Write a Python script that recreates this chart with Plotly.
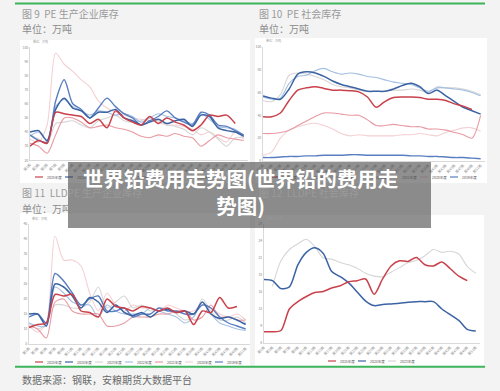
import plotly.graph_objects as go

W, H = 500, 391

# ---------------- data ----------------
weeks = [1, 3, 5, 7, 9, 11, 13, 15, 17, 19, 21, 23, 25, 27, 29, 31, 33, 35, 37, 39, 41, 43, 45, 47, 49, 51]
tick_weeks = [1, 3, 5, 7, 9, 11, 13, 15, 17, 19, 21, 23, 25, 27, 29, 31, 33, 35, 37, 39, 41, 43, 45, 47, 49, 51]
tick_text = ["第%d周" % w for w in tick_weeks]

years = ["2025年度", "2024年度", "2023年度", "2022年度", "2021年度", "2020年度", "2019年度"]
colors = ["#c8414b", "#3b63a3", "#d6d6d6", "#a3bfe2", "#e89aa3", "#f4d0d4", "#5a7fc0"]
widths = [1.5, 1.5, 1.1, 1.1, 1.1, 1.1, 1.4]

# 图9 PE 生产企业库存
pe_prod_2025 = [30, 34, 32, 54, 53, 52, 51, 46, 49, 43, 55, 50, 47, 45, 51, 46, 50, 47, 45, 41, 45, 52, 51, 52, 46, None]
pe_prod_2024 = [40, 41, 34, 56, 64, 57, 55, 50, 54, 54, 56, 50, 48, 45, 47, 49, 46, 48, 49, 44, 52, 51, 43, 41, 40, 37]
pe_prod_2023 = [38, 35, 32, 46, 47, 48, 45, 43, 48, 50, 52, 48, 47, 48, 50, 48, 45, 44, 42, 38, 43, 40, 35, 30, 36, 36]
pe_prod_2022 = [37, 40, 34, 58, 63, 58, 55, 52, 55, 54, 52, 53, 51, 47, 50, 53, 51, 50, 48, 46, 53, 49, 44, 43, 42, 37]
pe_prod_2021 = [32, 30, 25, 38, 50, 50, 47, 43, 44, 45, 43, 42, 40, 37, 36, 38, 37, 39, 37, 36, 30, 34, 38, 36, 35, 34]
pe_prod_2020 = [35, 33, 45, 96, 88, 83, 77, 72, 62, 57, 54, 52, 50, 49, 48, 47, 45, 45, 44, 42, 38, 40, 36, 33, 40, 35]
pe_prod_2019 = [38, 34, 33, 62, 77, 60, 56, 50, 57, 64, 58, 53, 50, 45, 48, 51, 55, 50, 47, 45, 54, 52, 45, 44, 41, 38]

# 图10 PE 社会库存
pe_soc_2025 = [38.8, 38.8, 42, 53, 62, 64, 65, 63.5, 62, 62, 61.5, 60.5, 56, 47, 52, 55.5, 56, 56, 55.5, 54, 54, 53, 50, 48, 45, None]
pe_soc_2024 = [57, 55, 54, 63, 76, 78, 77, 74, 70, 67, 65, 63, 61, 61, 61, 63, 66, 68, 65, 59, 62, 57, 52, 47, 44, 41]
pe_soc_2023 = [53, 52, 58, 75, 77, 76, 74, 71, 67, 65, 64, 62, 61, 61, 61, 62, 62, 63, 62, 60, 65, 64, 64, 63, 61, 58]
pe_soc_2022 = [56, 54, 55, 68, 74, 75, 79, 81, 78, 76, 77, 76, 74, 73, 71, 69, 68, 67, 64, 61, 64, 64, 63, 62, 60, 57]
pe_soc_2021 = [24, 24, 25, 27, 31, 35, 39, 42, 42, 41, 40, 40, 36, 31, 31, 32, 31, 30, 30, 28, 28, 27, 25, 23, 20, 40]
pe_soc_2020 = [5, 8, 20, 27, 30, 32, 33, 31, 28, 24, 22, 23, 22, 22, 22, 22, 23, 23, 24, 23, 22, 25, 27, 29, 29, 26]
pe_soc_2019 = [3, 3, 3.5, 4, 4, 4.5, 4.5, 5, 5, 5, 5.5, 5.5, 5, 5, 5, 5, 5, 4.5, 4.5, 4, 4, 3.5, 3, 3, 2.5, 2]

# 图11 LLDPE 生产企业库存
lldpe_prod_2025 = [10.5, 11.5, 12, 21.5, 21, 21.5, 16, 15.5, 14, 20, 17.5, 17, 16, 17.5, 17, 16, 17, 15.5, 16, 11.5, 16, 15.5, 20.5, 17, 17.5, None]
lldpe_prod_2024 = [15, 15, 11, 25, 24, 21, 17, 20.5, 19, 15.5, 18, 15.5, 14.5, 15.5, 14, 16, 16.5, 15.5, 16, 15, 19, 15, 13.5, 14, 13, 11.5]
lldpe_prod_2023 = [12, 10, 12, 18, 18, 17, 17, 19, 24, 17, 19, 21, 17, 18, 16, 17, 17, 15, 13, 14, 20, 16, 13, 13, 14, 12]
lldpe_prod_2022 = [12, 11, 11, 24, 22, 19, 18, 18, 14, 18, 16, 15, 15, 15, 17, 16, 15, 14, 12, 14, 19, 15, 12, 11, 10, 9.5]
lldpe_prod_2021 = [11, 10, 7, 19, 20, 16, 15, 15, 15, 11, 11, 12, 14, 14, 14, 15, 15, 16, 16, 13, 14, 18, 14, 14, 13, 13]
lldpe_prod_2020 = [11, 9, 12, 41, 33, 33, 31, 22, 16, 22, 18, 16, 18, 17, 17, 16, 18, 17, 16, 16, 18, 17, 15, 14, 15, 13]
lldpe_prod_2019 = [14, 15, 12, 28.5, 26, 22, 18, 20, 21, 16, 16, 17, 14, 15, 15, 17, 16, 16, 15, 15, 18, 17, 14, 12, 11, 10]

# 图12 LLDPE 社会库存
lldpe_soc_2025 = [8.0, 8.0, 8.2, 12.0, 13.3, 14.2, 14.9, 15.1, 15.7, 16.1, 16.8, 17.0, 17.3, 14.6, 17.3, 19.6, 20.5, 20.4, 21.1, 19.8, 19.6, 20.3, 19.1, 17.8, 17.0, None]
lldpe_soc_2024 = [17.2, 17.0, 15.6, 15.9, 19.8, 22.0, 22.8, 21.8, 18.6, 17.7, 16.6, 15.0, 13.4, 12.6, 12.8, 12.9, 13.0, 13.2, 13.3, 13.3, 13.3, 12.0, 11.0, 10.0, 8.4, 8.1]
lldpe_soc_2023 = [None, 16.0, 20.5, 22.5, 23.5, 24.3, 23.0, 21.0, 20.8, 20.2, 19.8, 19.2, 18.3, 17.8, 17.7, 18.5, 19.3, 20.2, 20.6, 21.4, 22.5, 22.0, 22.2, 21.7, 19.5, 18.3]

titles = ["图 9  PE 生产企业库存", "图 10  PE 社会库存", "图 11  LLDPE 生产企业库存", "图 12  LLDPE 社会库存"]
unit_text = "单位：万吨"
source_text = "数据来源：钢联，安粮期货大数据平台"
banner_text = "世界铅费用走势图(世界铅的费用走<br>势图)"

charts = [
    dict(series=[pe_prod_2025, pe_prod_2024, pe_prod_2023, pe_prod_2022, pe_prod_2021, pe_prod_2020, pe_prod_2019],
         yrange=[20, 100], dtick=10),
    dict(series=[pe_soc_2025, pe_soc_2024, pe_soc_2023, pe_soc_2022, pe_soc_2021, pe_soc_2020, pe_soc_2019],
         yrange=[0, 100], dtick=20),
    dict(series=[lldpe_prod_2025, lldpe_prod_2024, lldpe_prod_2023, lldpe_prod_2022, lldpe_prod_2021, lldpe_prod_2020, lldpe_prod_2019],
         yrange=[5, 45], dtick=5),
    dict(series=[lldpe_soc_2025, lldpe_soc_2024, lldpe_soc_2023],
         yrange=[6, 27], dtick=3),
]

# ---------------- layout geometry (pixels) ----------------
def px(x):
    return x / W

def py(y):
    return 1 - y / H

plot_boxes = [  # x0, x1, ytop, ybottom
    (30, 248, 47.3, 160.3),
    (263, 485, 46.7, 161.0),
    (29, 250, 224.0, 344.0),
    (264, 480, 224.0, 343.0),
]
panels = [(20, 250, 40, 183), (255, 487, 38, 183), (20, 250, 213, 366), (255, 484, 215, 366)]
title_pos = [(20, 13), (257, 13), (20, 193), (257, 193)]
unit_pos = [(20, 28), (257, 28), (20, 208), (257, 208)]
legend_pos = [(35, 177), (270, 177), (35, 362), (328, 361)]

CJK = "Noto Sans CJK SC"
fig = go.Figure()

draw_order = [5, 2, 3, 4, 6, 1, 0]
for ci, ch in enumerate(charts):
    n = len(ch["series"])
    ax = "" if ci == 0 else str(ci + 1)
    for si in draw_order:
        if si >= n:
            continue
        fig.add_trace(go.Scatter(
            x=weeks, y=ch["series"][si], name=years[si], mode="lines",
            line=dict(color=colors[si], width=widths[si], shape="spline", smoothing=0.8),
            xaxis="x" + ax, yaxis="y" + ax, showlegend=False, connectgaps=False,
        ))
    x0, x1, yt, yb = plot_boxes[ci]
    fig.layout["xaxis" + ax] = dict(
        domain=[px(x0), px(x1)], anchor="y" + ax, range=[1, 52],
        tickvals=tick_weeks, ticktext=tick_text, tickangle=-45,
        tickfont=dict(size=3.5, color="#8a8a8a", family=CJK),
        showline=True, linecolor="#d9d9d9", linewidth=1, showgrid=False,
        zeroline=False, ticks="", automargin=False,
    )
    fig.layout["yaxis" + ax] = dict(
        domain=[py(yb), py(yt)], anchor="x" + ax, range=ch["yrange"], dtick=ch["dtick"],
        tick0=ch["yrange"][0],
        tickfont=dict(size=3.5, color="#8a8a8a", family=CJK),
        showline=True, linecolor="#d9d9d9", linewidth=1, showgrid=False,
        zeroline=False, ticks="", automargin=False,
    )

shapes = []
annotations = []
for (x0, x1, y0, y1) in panels:
    shapes.append(dict(type="rect", xref="paper", yref="paper", x0=px(x0), x1=px(x1), y0=py(y1), y1=py(y0),
                       fillcolor="white", line=dict(width=0), layer="below"))
# green rules
for yy in (3.5, 366.8):
    shapes.append(dict(type="line", xref="paper", yref="paper", x0=px(15), x1=px(485), y0=py(yy), y1=py(yy),
                       line=dict(color="#3cb45a", width=2)))

for ci, t in enumerate(titles):
    tx, ty = title_pos[ci]
    annotations.append(dict(text=t, x=px(tx), y=py(ty), xref="paper", yref="paper", xanchor="left", yanchor="middle",
                            showarrow=False, font=dict(size=10, color="#9a9a9a", family=CJK)))
    ux, uy = unit_pos[ci]
    annotations.append(dict(text=unit_text, x=px(ux), y=py(uy), xref="paper", yref="paper", xanchor="left", yanchor="middle",
                            showarrow=False, font=dict(size=10, color="#8c8c8c", family=CJK)))
    x0, x1, yt, yb = plot_boxes[ci]
    annotations.append(dict(text=unit_text, x=px(x0 + 1), y=py(yt - 6), xref="paper", yref="paper", xanchor="left",
                            yanchor="middle", showarrow=False, font=dict(size=3, color="#999999", family=CJK)))
    # legend entries
    lx, ly = legend_pos[ci]
    n = len(charts[ci]["series"])
    for si in range(n):
        sx = lx + si * 30
        shapes.append(dict(type="line", xref="paper", yref="paper", x0=px(sx), x1=px(sx + 8), y0=py(ly), y1=py(ly),
                           line=dict(color=colors[si], width=1.2)))
        annotations.append(dict(text=years[si], x=px(sx + 10), y=py(ly), xref="paper", yref="paper", xanchor="left",
                                yanchor="middle", showarrow=False, font=dict(size=3.5, color="#555555", family=CJK)))

annotations.append(dict(text=source_text, x=px(20), y=py(379), xref="paper", yref="paper", xanchor="left",
                        yanchor="middle", showarrow=False, font=dict(size=10, color="#6a6a6a", family=CJK)))

# overlay banner
shapes.append(dict(type="rect", xref="paper", yref="paper", x0=px(68), x1=px(431), y0=py(228), y1=py(162),
                   fillcolor="rgba(70,70,70,0.6)", line=dict(width=0), layer="above"))
annotations.append(dict(text="<b>" + banner_text + "</b>", x=px(240), y=py(191), xref="paper", yref="paper",
                        xanchor="center", yanchor="middle", align="center", showarrow=False,
                        font=dict(size=20.5, color="white", family=CJK)))

fig.update_layout(
    width=W, height=H, autosize=False,
    margin=dict(l=0, r=0, t=0, b=0),
    paper_bgcolor="#f3f3f3", plot_bgcolor="white",
    shapes=shapes, annotations=annotations, showlegend=False,
)

fig.write_html(
    "out.html",
    config={"displayModeBar": False},
    post_script="document.body.style.margin='0';document.body.style.padding='0';document.body.style.overflow='hidden';",
)
